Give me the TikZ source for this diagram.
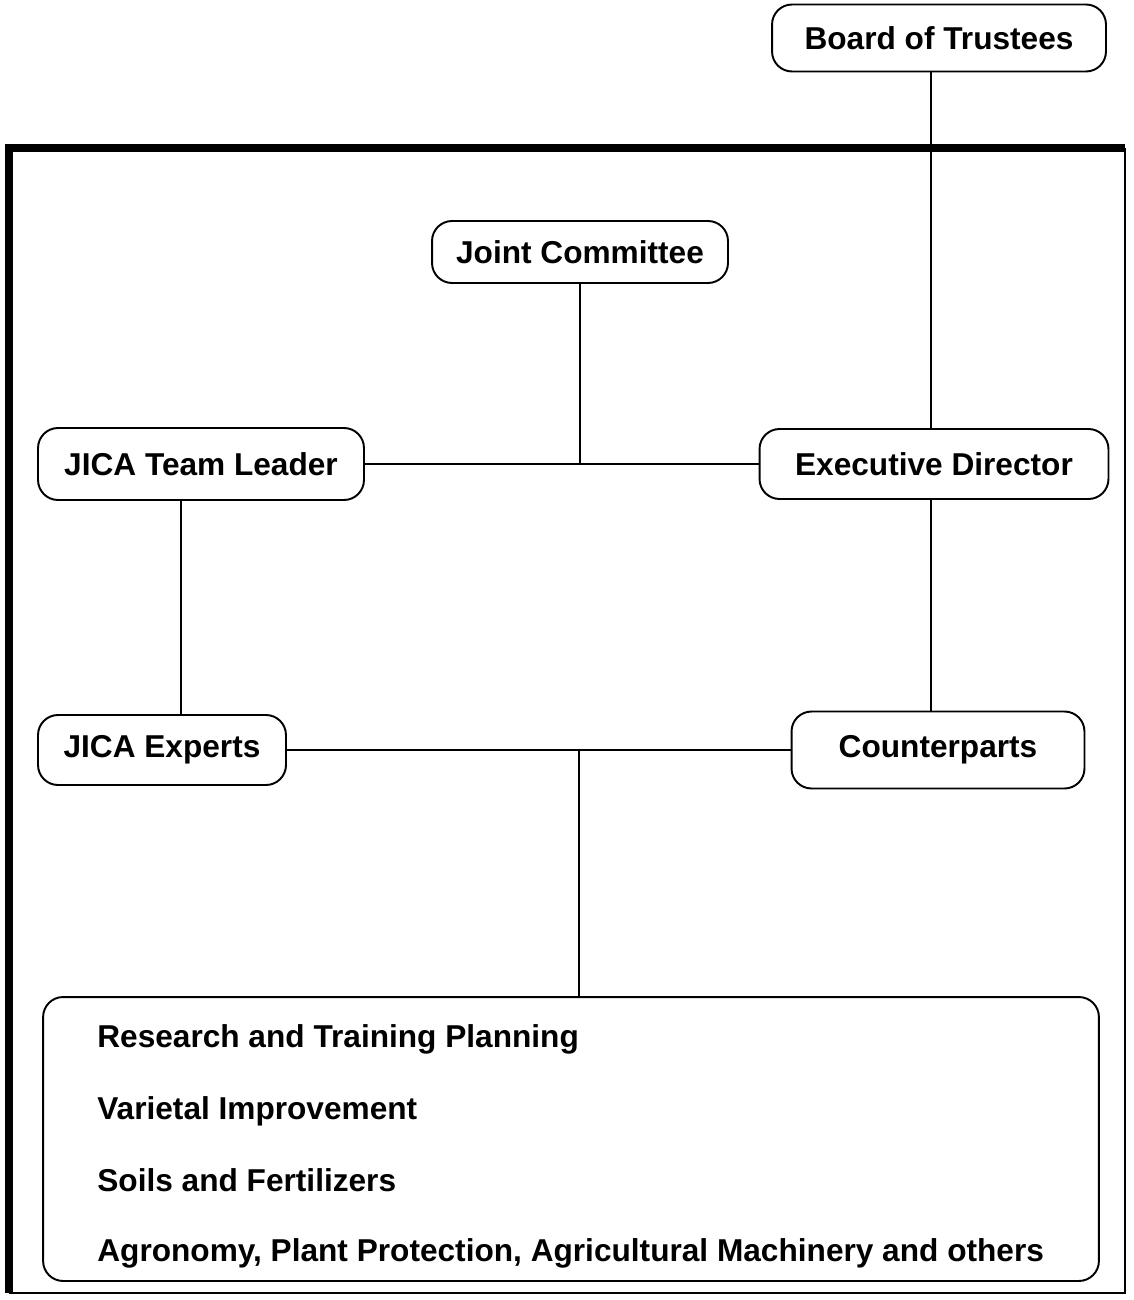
\documentclass[tikz,border=0pt]{standalone}
\usepackage{fontspec}
\setmainfont{Liberation Sans}

\begin{document}
\begin{tikzpicture}[x=0.02cm,y=-0.02cm,
  unit/.style={draw,line width=1.1pt,rounded corners=0.4cm,inner sep=0pt,
    font=\fontsize{18}{22}\selectfont\bfseries},
  task/.style={anchor=base west,inner sep=0pt,font=\fontsize{18}{22}\selectfont\bfseries},
  link/.style={line width=1.1pt}]
\useasboundingbox (0,0) rectangle (1133,1300);
% frame of the project
\draw [line width=5pt] (9,1293) -- (9,148) -- (1125,148);
\draw [line width=1.2pt] (1125,148) -- (1125,1293) -- (9,1293);
\node[unit,minimum width=6.68cm,minimum height=1.34cm] (board) at (939,38) {Board of Trustees};
\node[unit,minimum width=5.92cm,minimum height=1.24cm] (joint) at (580,252) {Joint Committee};
\node[unit,minimum width=6.52cm,minimum height=1.44cm] (leader) at (201,464) {JICA Team Leader};
\node[unit,minimum width=6.98cm,minimum height=1.40cm] (director) at (934,464) {Executive Director};
\node[unit,minimum width=4.96cm,minimum height=1.40cm] (experts) at (162,750) {JICA Experts};
\node[unit,minimum width=5.86cm,minimum height=1.54cm] (counter) at (938,750) {Counterparts};
\node[unit,minimum width=21.12cm,minimum height=5.68cm] (tasks) at (571,1139) {};
\node[task] (plan)  at (97,1047) {Research and Training Planning};
\node[task] (vari)  at (97,1119) {Varietal Improvement};
\node[task] (soil)  at (97,1191) {Soils and Fertilizers};
\node[task] (agro)  at (97,1261) {Agronomy, Plant Protection, Agricultural Machinery and others};
\coordinate (split) at (579,750);
\draw [link] (board.south -| 931,0) -- (director.north -| 931,0);
\draw [link] (leader) -- (director);
\draw [link] (joint.south) -- (joint.south |- leader);
\draw [link] (leader.south -| 181,0) -- (experts.north -| 181,0);
\draw [link] (director.south -| 931,0) -- (counter.north -| 931,0);
\draw [link] (experts) -- (counter);
\draw [link] (split) -- (split |- tasks.north);
\end{tikzpicture}
\end{document}
